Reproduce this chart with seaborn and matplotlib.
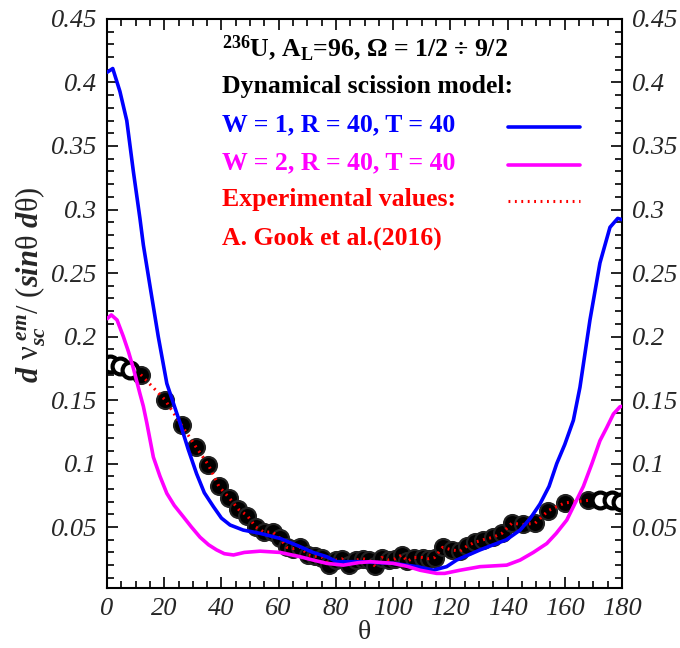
import numpy as np
import pandas as pd
import matplotlib
matplotlib.use("Agg")
import matplotlib.pyplot as plt
from matplotlib.ticker import MultipleLocator
import seaborn as sns

# model curves
theta_w1 = [0, 2, 4.5, 6.9, 9.2, 11.5, 12.7, 15, 17.9, 20.9, 25.5, 28.4, 31.3, 34, 37.2, 40, 43,
            47.6, 53.5, 60.5, 67.5, 72, 76.8, 80.3, 88.4, 100, 108.3, 114, 118.7, 122.2, 130.4,
            139.6, 144.4, 148, 151.3, 154.5, 157.2, 160, 163, 165.3, 168.8, 172.3, 175.8, 178.5, 180]
nu_w1 = [0.408, 0.411, 0.393, 0.370, 0.330, 0.293, 0.272, 0.240, 0.200, 0.163, 0.132, 0.111, 0.092,
         0.077, 0.066, 0.057, 0.0516, 0.0476, 0.045, 0.041, 0.0345, 0.030, 0.0266, 0.0227, 0.0227,
         0.0214, 0.0188, 0.016, 0.0188, 0.024, 0.032, 0.040, 0.0476, 0.057, 0.068, 0.082, 0.100,
         0.115, 0.134, 0.160, 0.213, 0.258, 0.286, 0.293, 0.292]

theta_w2 = [0, 1.5, 3.5, 5.7, 7.5, 9.2, 11.5, 12.7, 13.9, 16.2, 18.5, 20.9, 23.5, 26.7, 29.5, 32.5,
            35.5, 38.3, 41, 44.2, 48, 53.5, 60.5, 67.5, 72, 76.8, 82.6, 88, 92, 100, 105, 109.4,
            115.2, 118, 123.4, 130.4, 139.7, 144.4, 149, 153.7, 157, 160.7, 166.5, 169.5, 172.3,
            174.6, 177, 179.3, 180]
nu_w2 = [0.214, 0.217, 0.213, 0.200, 0.188, 0.175, 0.155, 0.145, 0.132, 0.105, 0.090, 0.0765, 0.067,
         0.058, 0.050, 0.042, 0.036, 0.032, 0.029, 0.028, 0.030, 0.031, 0.030, 0.0266, 0.024, 0.0214,
         0.020, 0.022, 0.0227, 0.0214, 0.019, 0.016, 0.0135, 0.0135, 0.016, 0.0188, 0.020, 0.024,
         0.030, 0.037, 0.045, 0.0555, 0.082, 0.100, 0.118, 0.128, 0.139, 0.1447, 0.145]

# experimental points (Gook et al. 2016)
theta_exp = [11.8, 20.3, 26.1, 31.1, 35.4, 39.1, 42.7, 45.9, 49.0, 52.0, 54.8, 57.9, 60.5, 62.8,
             65.0, 67.5, 70.4, 72.7, 75.3, 77.5, 80.0, 82.0, 84.6, 87.0, 89.5, 91.5, 93.8, 96.0,
             98.5, 100.7, 103.0, 105.0, 107.3, 110.3, 112.5, 114.5, 117.3, 120.5, 123.4, 125.8,
             128.6, 131.5, 135.0, 138.0, 141.5, 145.3, 149.6, 154.3, 160.0, 168.2]
nu_exp = [0.170, 0.150, 0.130, 0.113, 0.099, 0.082, 0.073, 0.064, 0.059, 0.050, 0.046, 0.046, 0.041,
          0.034, 0.033, 0.034, 0.028, 0.027, 0.026, 0.020, 0.024, 0.025, 0.020, 0.024, 0.025, 0.024,
          0.019, 0.026, 0.024, 0.025, 0.028, 0.023, 0.026, 0.026, 0.025, 0.026, 0.034, 0.032, 0.031,
          0.035, 0.038, 0.040, 0.042, 0.045, 0.053, 0.052, 0.053, 0.063, 0.069, 0.071]
theta_open = [1.0, 4.5, 8.0, 172.3, 176.4, 179.5]
nu_open = [0.178, 0.177, 0.174, 0.071, 0.071, 0.070]

legend_rows = ["$^{\\mathbf{236}}$U, A$_{\\mathbf{L}}$=96, \u03a9 = 1/2 \u00f7 9/2",
               "Dynamical scission model:",
               "W = 1, R = 40, T = 40",
               "W = 2, R = 40, T = 40",
               "Experimental values:",
               "A. Gook et al.(2016)"]
legend_colors = ["black", "black", "blue", "magenta", "red", "red"]

sns.set_theme(style="ticks")
plt.rcParams["font.family"] = ["Liberation Serif", "DejaVu Serif"]
plt.rcParams["mathtext.fontset"] = "custom"
plt.rcParams["mathtext.rm"] = "Liberation Serif"
plt.rcParams["mathtext.it"] = "Liberation Serif:italic:bold"
plt.rcParams["mathtext.bf"] = "Liberation Serif:bold"

dots = (0, (0.6, 1.5))

fig = plt.figure(figsize=(6.8, 6.48), dpi=100)
ax = fig.add_axes([0.1574, 0.0926, 0.7573, 0.8781])

ax.scatter(theta_exp, nu_exp, s=150, facecolor="black", edgecolor="#222222", linewidth=1.5, zorder=2)
ax.scatter(theta_open, nu_open, s=130, facecolor="white", edgecolor="black", linewidth=3, zorder=2)
sns.lineplot(x=theta_exp, y=nu_exp, ax=ax, color="red", linestyle=dots, linewidth=2.2,
             estimator=None, sort=False, zorder=3)
sns.lineplot(x=theta_w1, y=nu_w1, ax=ax, color="blue", linewidth=2.6, estimator=None, zorder=4)
sns.lineplot(x=theta_w2, y=nu_w2, ax=ax, color="magenta", linewidth=2.6, estimator=None, zorder=4)

ax.set_xlim(0, 180)
ax.set_ylim(0.002, 0.45)
ax.xaxis.set_major_locator(MultipleLocator(20))
ax.xaxis.set_minor_locator(MultipleLocator(5))
ax.yaxis.set_minor_locator(MultipleLocator(0.01))
yt = np.arange(0.05, 0.451, 0.05)
ax.set_yticks(yt)
ax.set_yticklabels([f"{v:g}" for v in yt])
ax.tick_params(which="both", direction="in", top=True, right=True, labelright=True,
               labelsize=19, pad=7, color="black", width=1.2)
ax.tick_params(which="major", length=8)
ax.tick_params(which="minor", length=5)
for t in ax.xaxis.get_major_ticks() + ax.yaxis.get_major_ticks():
    t.label1.set_fontstyle("italic")
    t.label2.set_fontstyle("italic")
for sp in ax.spines.values():
    sp.set_linewidth(1.5)
    sp.set_color("black")

ax.set_xlabel("\u03b8", fontsize=20, labelpad=0)
ax.text(-0.148, 0.533,
        "$d\\ \\mathrm{\\nu}_{sc}^{\\ em}/\\ (sin\\mathrm{\\theta}\\ d\\mathrm{\\theta})$",
        transform=ax.transAxes, rotation=90, ha="center", va="center", fontsize=22)

# legend block, typed as text rows with sample lines
row_y = [0.427, 0.3965, 0.367, 0.337, 0.3075, 0.277]
for txt, col, yy in zip(legend_rows, legend_colors, row_y):
    ax.text(40.2, yy, txt, color=col, fontsize=18.5, fontweight="bold", va="center", ha="left")
ax.plot([140.2, 165.3], [row_y[2] - 0.002] * 2, color="blue", linewidth=2.6)
ax.plot([140.2, 165.3], [row_y[3] - 0.002] * 2, color="magenta", linewidth=2.6)
ax.plot([140.2, 165.3], [row_y[4] - 0.001] * 2, color="red", linewidth=2.2, linestyle=dots)

fig.savefig("out.png", dpi=100, facecolor="white")
